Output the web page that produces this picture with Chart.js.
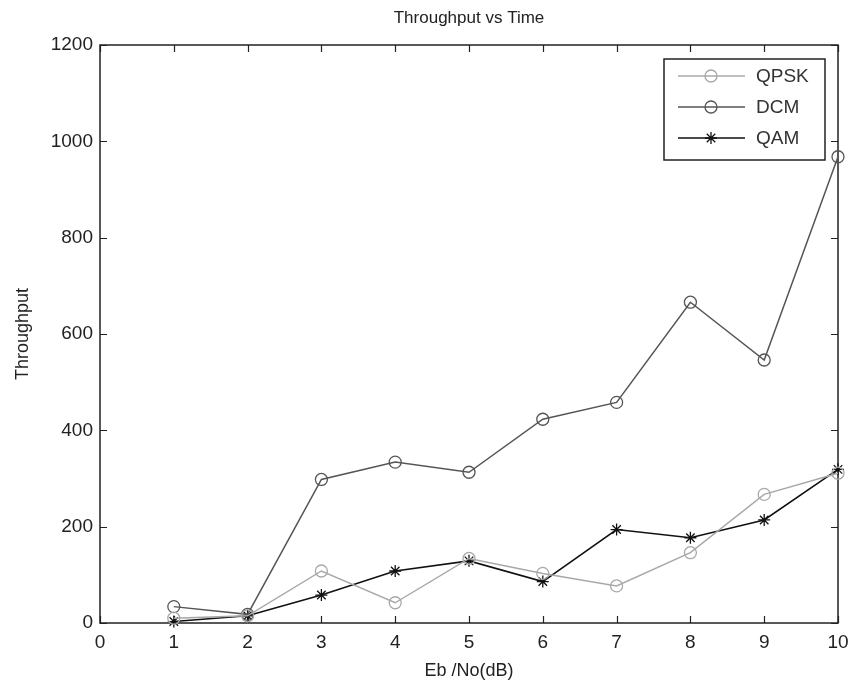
<!DOCTYPE html>
<html lang="en">
<head>
  <meta charset="UTF-8">
  <title>Throughput vs Time</title>
  <style>
    html, body { margin: 0; padding: 0; background: #fff; }
    #wrap { width: 850px; height: 683px; }
  </style>
  <script src="https://cdn.jsdelivr.net/npm/chart.js"></script>
</head>
<body>
  <div id="wrap"><canvas id="grafica" width="850" height="683"></canvas></div>

  <script>
    // valores
    const ebNo = [1, 2, 3, 4, 5, 6, 7, 8, 9, 10];
    const qpsk = [10, 15, 108, 42, 134, 103, 77, 146, 267, 311];
    const dcm = [34, 18, 298, 334, 313, 423, 458, 666, 546, 968];
    const qam = [3, 15, 58, 108, 129, 86, 194, 177, 214, 319];
    const xTicks = [0, 1, 2, 3, 4, 5, 6, 7, 8, 9, 10];
    const yTicks = [0, 200, 400, 600, 800, 1000, 1200];

    const FONT = "'Liberation Sans', Arial, sans-serif";

    function puntos(vals) {
      return ebNo.map((x, i) => ({ x: x, y: vals[i] }));
    }

    // marco con marcas hacia dentro, titulo y leyenda (estilo matlab)
    const marcoPlugin = {
      id: 'marco',
      beforeDatasetsDraw(chart) {
        const { ctx, chartArea: a, scales } = chart;
        ctx.save();
        ctx.strokeStyle = '#222';
        ctx.lineWidth = 1.5;
        ctx.strokeRect(a.left, a.top, a.right - a.left, a.bottom - a.top);
        ctx.lineWidth = 1.2;
        ctx.beginPath();
        xTicks.forEach(v => {
          const px = Math.round(scales.x.getPixelForValue(v)) + 0.5;
          ctx.moveTo(px, a.bottom); ctx.lineTo(px, a.bottom - 7);
          ctx.moveTo(px, a.top); ctx.lineTo(px, a.top + 7);
        });
        yTicks.forEach(v => {
          const py = Math.round(scales.y.getPixelForValue(v)) + 0.5;
          ctx.moveTo(a.left, py); ctx.lineTo(a.left + 7, py);
          ctx.moveTo(a.right, py); ctx.lineTo(a.right - 7, py);
        });
        ctx.stroke();

        ctx.fillStyle = '#222';
        ctx.font = '17px ' + FONT;
        ctx.textAlign = 'center';
        ctx.textBaseline = 'middle';
        ctx.fillText('Throughput vs Time', (a.left + a.right) / 2, 18);
        ctx.restore();
      },
      afterDraw(chart) {
        const { ctx } = chart;
        const box = { x: 664, y: 59, w: 161, h: 101 };
        ctx.save();
        ctx.fillStyle = '#fff';
        ctx.fillRect(box.x, box.y, box.w, box.h);
        ctx.strokeStyle = '#222';
        ctx.lineWidth = 1.5;
        ctx.strokeRect(box.x, box.y, box.w, box.h);
        ctx.font = '19px ' + FONT;
        ctx.textBaseline = 'middle';
        chart.data.datasets.forEach((ds, i) => {
          const y = box.y + 17 + i * 31;
          ctx.strokeStyle = ds.borderColor;
          ctx.lineWidth = ds.borderWidth;
          ctx.beginPath();
          ctx.moveTo(678, y); ctx.lineTo(745, y);
          ctx.stroke();
          ctx.fillStyle = 'rgba(0,0,0,0)';
          ctx.lineWidth = ds.pointBorderWidth;
          Chart.helpers.drawPoint(ctx, {
            pointStyle: ds.pointStyle,
            radius: ds.pointRadius,
            borderWidth: ds.pointBorderWidth,
            rotation: 0
          }, 711, y);
          ctx.fillStyle = '#333';
          ctx.fillText(ds.label, 756, y + 1);
        });
        ctx.restore();
      }
    };

    function serie(label, vals, color, estilo, ancho) {
      return {
        label: label,
        data: puntos(vals),
        borderColor: color,
        backgroundColor: 'rgba(0,0,0,0)',
        borderWidth: ancho,
        pointStyle: estilo,
        pointRadius: 6,
        pointHoverRadius: 6,
        pointBorderColor: color,
        pointBackgroundColor: 'rgba(0,0,0,0)',
        pointBorderWidth: 1.3,
        tension: 0,
        clip: false
      };
    }

    new Chart(document.getElementById('grafica'), {
      type: 'line',
      data: {
        datasets: [
          serie('QPSK', qpsk, '#a8a8a8', 'circle', 1.5),
          serie('DCM', dcm, '#555555', 'circle', 1.5),
          serie('QAM', qam, '#111111', 'star', 1.6)
        ]
      },
      options: {
        responsive: false,
        animation: false,
        layout: { padding: { top: 45, right: 12, left: 0, bottom: 0 } },
        plugins: {
          legend: { display: false },
          title: { display: false },
          tooltip: { enabled: false }
        },
        scales: {
          x: {
            type: 'linear',
            min: 0,
            max: 10,
            afterFit(scale) {
              scale.height = 60;
              scale.paddingLeft = 0;
              scale.paddingRight = 0;
            },
            afterBuildTicks(scale) { scale.ticks = xTicks.map(v => ({ value: v })); },
            grid: { display: false, drawTicks: false },
            border: { display: false },
            ticks: {
              color: '#222', padding: 8, font: { family: FONT, size: 19 }, maxRotation: 0,
              callback: v => String(v)
            },
            title: {
              display: true,
              text: 'Eb /No(dB)',
              color: '#222',
              font: { family: FONT, size: 18 },
              padding: { top: 0, bottom: 1 }
            }
          },
          y: {
            min: 0,
            max: 1200,
            afterFit(scale) {
              scale.width = 100;
              scale.paddingTop = 0;
              scale.paddingBottom = 0;
            },
            afterBuildTicks(scale) { scale.ticks = yTicks.map(v => ({ value: v })); },
            grid: { display: false, drawTicks: false },
            border: { display: false },
            ticks: {
              color: '#222', padding: 7, font: { family: FONT, size: 19 },
              callback: v => String(v)
            },
            title: {
              display: true,
              text: 'Throughput',
              color: '#222',
              font: { family: FONT, size: 18 },
              padding: { top: 12, bottom: 0 }
            }
          }
        }
      },
      plugins: [marcoPlugin]
    });
  </script>
</body>
</html>
